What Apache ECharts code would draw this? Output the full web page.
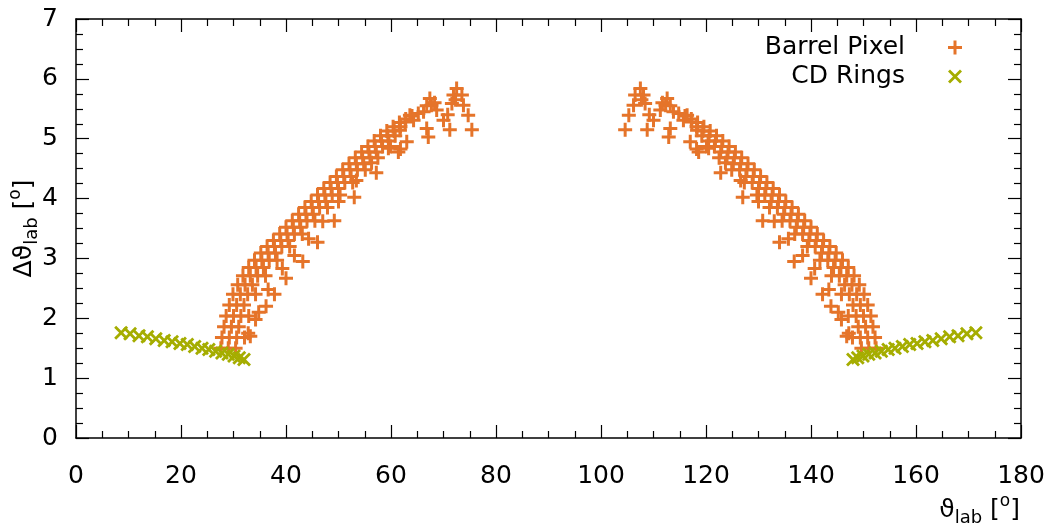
<!DOCTYPE html>
<html>
<head>
<meta charset="utf-8">
<script src="https://cdn.jsdelivr.net/npm/echarts@6/dist/echarts.min.js"></script>
<style>
  html, body { margin: 0; padding: 0; background: #fff; }
  #chart { width: 1054px; height: 530px; }
</style>
</head>
<body>
<div id="chart"></div>
<script>
// tick values
var xTicks = [0, 20, 40, 60, 80, 100, 120, 140, 160, 180]
var yTicks = [0, 1, 2, 3, 4, 5, 6, 7]

// Barrel Pixel, left arc [theta_lab, dtheta_lab]
var pixelLeft = [
  // outer edge
  [27.6,1.5],[27.8,1.68],[28.2,1.86],[28.6,2.04],[29.2,2.22],[29.9,2.4],[30.8,2.56],[31.8,2.71],[32.9,2.85],[34.0,2.97],
  [35.2,3.09],[36.4,3.2],[37.6,3.3],[38.8,3.41],[40.0,3.52],[41.2,3.63],[42.4,3.74],[43.6,3.85],[44.8,3.95],[46.0,4.06],
  [47.2,4.17],[48.4,4.27],[49.6,4.37],[50.8,4.48],[52.0,4.58],[53.2,4.68],[54.4,4.78],[55.6,4.87],[56.8,4.96],[58.0,5.05],
  [59.2,5.13],[60.4,5.2],[61.6,5.27],[62.8,5.33],[64.0,5.38],
  // inner rows
  [29.0,1.5],[29.2,1.68],[29.6,1.86],[30.0,2.04],[30.6,2.22],[31.3,2.4],[32.2,2.56],[33.2,2.71],[34.3,2.85],[35.4,2.97],
  [36.6,3.09],[37.8,3.2],[39.0,3.3],[40.2,3.41],[41.4,3.52],[42.6,3.63],[43.8,3.74],[45.0,3.85],[46.2,3.95],[47.4,4.06],
  [48.6,4.17],[49.8,4.27],[51.0,4.37],[52.2,4.48],[53.4,4.58],[54.6,4.68],[55.8,4.78],[57.0,4.87],[58.2,4.96],[59.4,5.05],
  [60.6,5.13],[61.8,5.2],
  [30.4,1.5],[30.6,1.68],[31.0,1.86],[31.4,2.04],[32.0,2.22],[32.7,2.4],[33.6,2.56],[34.6,2.71],[35.7,2.85],[36.8,2.97],
  [38.0,3.09],[39.2,3.2],[40.4,3.3],[41.6,3.41],[42.8,3.52],[44.0,3.63],[45.2,3.74],[46.4,3.85],[47.6,3.95],[48.8,4.06],
  [50.0,4.17],[51.2,4.27],[52.4,4.37],[53.6,4.48],[54.8,4.58],[56.0,4.68],[57.2,4.78],[58.4,4.87],[59.6,4.96],[60.8,5.05],
  [32.1,1.68],[32.9,2.04],[34.2,2.4],[36.1,2.71],[38.3,2.97],[40.7,3.2],[43.1,3.41],[45.5,3.63],[47.9,3.85],[50.3,4.06],
  [52.7,4.27],[55.1,4.48],[57.5,4.68],[59.9,4.87],
  [33.2,1.7],[34.8,2.1],[36.6,2.48],[39.3,2.83],[41.6,3.05],[44.3,3.33],[47.0,3.62],[50.0,3.95],[53.4,4.3],[56.3,4.6],[59.5,4.84],
  // isolated outer points
  [32.8,1.75],[34.2,1.98],[36.2,2.2],[37.8,2.4],[40.0,2.67],[43.2,2.95],[46.0,3.27],[49.2,3.63],[53.0,4.02],[57.2,4.43],[61.8,4.83],
  // top region
  [72.5,5.84],[71.9,5.73],[73.5,5.73],[71.6,5.59],[73.8,5.56],[74.7,5.39],[75.4,5.15],[71.2,5.15],[67.7,5.56],[67.4,5.67],
  [68.7,5.48],[70.0,5.31],[66.8,5.17],[67.1,5.03],[66.2,5.45],[63.6,5.39],[64.3,5.31],[62.7,5.28],[61.7,5.14],[63.0,4.95],
  [61.4,4.78],[68.3,5.6],[66.8,5.55],[65.2,5.42],[72.3,5.65],[70.8,5.4]
]

// Barrel Pixel, right arc
var pixelRight = [
  [152.4,1.5],[152.2,1.68],[151.8,1.86],[151.4,2.04],[150.8,2.22],[150.1,2.4],[149.2,2.56],[148.2,2.71],[147.1,2.85],[146.0,2.97],
  [144.8,3.09],[143.6,3.2],[142.4,3.3],[141.2,3.41],[140.0,3.52],[138.8,3.63],[137.6,3.74],[136.4,3.85],[135.2,3.95],[134.0,4.06],
  [132.8,4.17],[131.6,4.27],[130.4,4.37],[129.2,4.48],[128.0,4.58],[126.8,4.68],[125.6,4.78],[124.4,4.87],[123.2,4.96],[122.0,5.05],
  [120.8,5.13],[119.6,5.2],[118.4,5.27],[117.2,5.33],[116.0,5.38],
  [151.0,1.5],[150.8,1.68],[150.4,1.86],[150.0,2.04],[149.4,2.22],[148.7,2.4],[147.8,2.56],[146.8,2.71],[145.7,2.85],[144.6,2.97],
  [143.4,3.09],[142.2,3.2],[141.0,3.3],[139.8,3.41],[138.6,3.52],[137.4,3.63],[136.2,3.74],[135.0,3.85],[133.8,3.95],[132.6,4.06],
  [131.4,4.17],[130.2,4.27],[129.0,4.37],[127.8,4.48],[126.6,4.58],[125.4,4.68],[124.2,4.78],[123.0,4.87],[121.8,4.96],[120.6,5.05],
  [119.4,5.13],[118.2,5.2],
  [149.6,1.5],[149.4,1.68],[149.0,1.86],[148.6,2.04],[148.0,2.22],[147.3,2.4],[146.4,2.56],[145.4,2.71],[144.3,2.85],[143.2,2.97],
  [142.0,3.09],[140.8,3.2],[139.6,3.3],[138.4,3.41],[137.2,3.52],[136.0,3.63],[134.8,3.74],[133.6,3.85],[132.4,3.95],[131.2,4.06],
  [130.0,4.17],[128.8,4.27],[127.6,4.37],[126.4,4.48],[125.2,4.58],[124.0,4.68],[122.8,4.78],[121.6,4.87],[120.4,4.96],[119.2,5.05],
  [147.9,1.68],[147.1,2.04],[145.8,2.4],[143.9,2.71],[141.7,2.97],[139.3,3.2],[136.9,3.41],[134.5,3.63],[132.1,3.85],[129.7,4.06],
  [127.3,4.27],[124.9,4.48],[122.5,4.68],[120.1,4.87],
  [146.8,1.7],[145.2,2.1],[143.4,2.48],[140.7,2.83],[138.4,3.05],[135.7,3.33],[133.0,3.62],[130.0,3.95],[126.6,4.3],[123.7,4.6],[120.5,4.84],
  [147.2,1.75],[145.8,1.98],[143.8,2.2],[142.2,2.4],[140.0,2.67],[136.8,2.95],[134.0,3.27],[130.8,3.63],[127.0,4.02],[122.8,4.43],[118.2,4.83],
  [107.5,5.84],[108.1,5.73],[106.5,5.73],[108.4,5.59],[106.2,5.56],[105.3,5.39],[104.6,5.15],[108.8,5.15],[112.3,5.56],[112.6,5.67],
  [111.3,5.48],[110.0,5.31],[113.2,5.17],[112.9,5.03],[113.8,5.45],[116.4,5.39],[115.7,5.31],[117.3,5.28],[118.3,5.14],[117.0,4.95],
  [118.6,4.78],[111.7,5.6],[113.2,5.55],[114.8,5.42],[107.7,5.65],[109.2,5.4]
]

// CD Rings
var ringsLeft = [
  [8.6,1.76],[10.3,1.74],[12.0,1.71],[13.6,1.69],[15.2,1.66],[16.8,1.63],[18.3,1.61],[19.8,1.58],[21.2,1.56],
  [22.6,1.53],[24.0,1.5],[25.3,1.48],[26.6,1.45],[27.8,1.42],[29.0,1.4],[30.1,1.37],[31.1,1.34],[32.0,1.31]
]
var ringsRight = [
  [171.4,1.76],[169.7,1.74],[168.0,1.71],[166.4,1.69],[164.8,1.66],[163.2,1.63],[161.7,1.61],[160.2,1.58],[158.8,1.56],
  [157.4,1.53],[156.0,1.5],[154.7,1.48],[153.4,1.45],[152.2,1.42],[151.0,1.4],[149.9,1.37],[148.9,1.34],[148.0,1.31]
]

var plusPath = 'path://M0,5.5L14,5.5L14,8.5L0,8.5Z M5.5,0L8.5,0L8.5,14L5.5,14Z'
var crossPath = 'path://M2,0L7,5L12,0L14,2L9,7L14,12L12,14L7,9L2,14L0,12L5,7L0,2Z'
var font = 'DejaVu Sans'

var myChart = echarts.init(document.getElementById('chart'))

function mkX (pos, showLabel) {
  return {
    type: 'value', position: pos, min: xTicks[0], max: xTicks[xTicks.length - 1], interval: 20,
    axisLine: { show: true, onZero: false, lineStyle: { color: '#000', width: 1.5 } },
    axisTick: { show: true, inside: true, length: 13, lineStyle: { color: '#000', width: 1.2 } },
    minorTick: { show: true, splitNumber: 4, length: 7, lineStyle: { color: '#000', width: 1.2 } },
    axisLabel: { show: showLabel, color: '#000', fontSize: 25, fontFamily: font, margin: 26 },
    splitLine: { show: false }
  }
}
function mkY (pos, showLabel) {
  return {
    type: 'value', position: pos, min: yTicks[0], max: yTicks[yTicks.length - 1], interval: 1,
    axisLine: { show: true, onZero: false, lineStyle: { color: '#000', width: 1.5 } },
    axisTick: { show: true, inside: true, length: 13, lineStyle: { color: '#000', width: 1.2 } },
    minorTick: { show: true, splitNumber: 4, length: 7, lineStyle: { color: '#000', width: 1.2 } },
    axisLabel: { show: showLabel, color: '#000', fontSize: 25, fontFamily: font, margin: 18 },
    splitLine: { show: false }
  }
}

var labelRich = {
  a: { fontSize: 25, fontFamily: font, color: '#000', fill: '#000', lineHeight: 34 },
  sub: { fontSize: 18, fontFamily: font, color: '#000', fill: '#000', verticalAlign: 'bottom', lineHeight: 18 },
  sup: { fontSize: 17, fontFamily: font, color: '#000', fill: '#000', verticalAlign: 'top', lineHeight: 17 }
}

var yAxisLeft = mkY('left', true)
yAxisLeft.name = '{a|Δϑ}{sub|lab}{a| [}{sup|o}{a|]}'
yAxisLeft.nameLocation = 'middle'
yAxisLeft.nameRotate = 90
yAxisLeft.nameGap = 35
yAxisLeft.nameMoveOverlap = false
yAxisLeft.nameTextStyle = { fontFamily: font, rich: labelRich }

var option = {
  backgroundColor: '#fff',
  animation: false,
  grid: { left: 76, right: 33, top: 19, bottom: 92, containLabel: false, outerBoundsMode: 'none' },
  legend: {
    orient: 'vertical', right: 87, top: 30, align: 'right', itemGap: 4,
    itemWidth: 90, itemHeight: 14, symbolKeepAspect: true,
    textStyle: { fontSize: 25, fontFamily: font, color: '#000' },
    data: ['Barrel Pixel', 'CD Rings']
  },
  xAxis: [mkX('bottom', true), mkX('top', false)],
  yAxis: [yAxisLeft, mkY('right', false)],
  graphic: [{
    type: 'text', right: 34, top: 493,
    style: { text: '{a|ϑ}{sub|lab}{a| [}{sup|o}{a|]}', rich: labelRich }
  }],
  series: [
    {
      name: 'Barrel Pixel', type: 'scatter', symbol: plusPath, symbolSize: 14,
      itemStyle: { color: '#e5742a', opacity: 1 },
      data: pixelLeft.concat(pixelRight), z: 2
    },
    {
      name: 'CD Rings', type: 'scatter', symbol: crossPath, symbolSize: 14,
      itemStyle: { color: '#a5ad00', opacity: 1 },
      data: ringsLeft.concat(ringsRight), z: 3
    }
  ]
}
myChart.setOption(option)
window.addEventListener('resize', function () {
  myChart.resize()
})
</script>
</body>
</html>
